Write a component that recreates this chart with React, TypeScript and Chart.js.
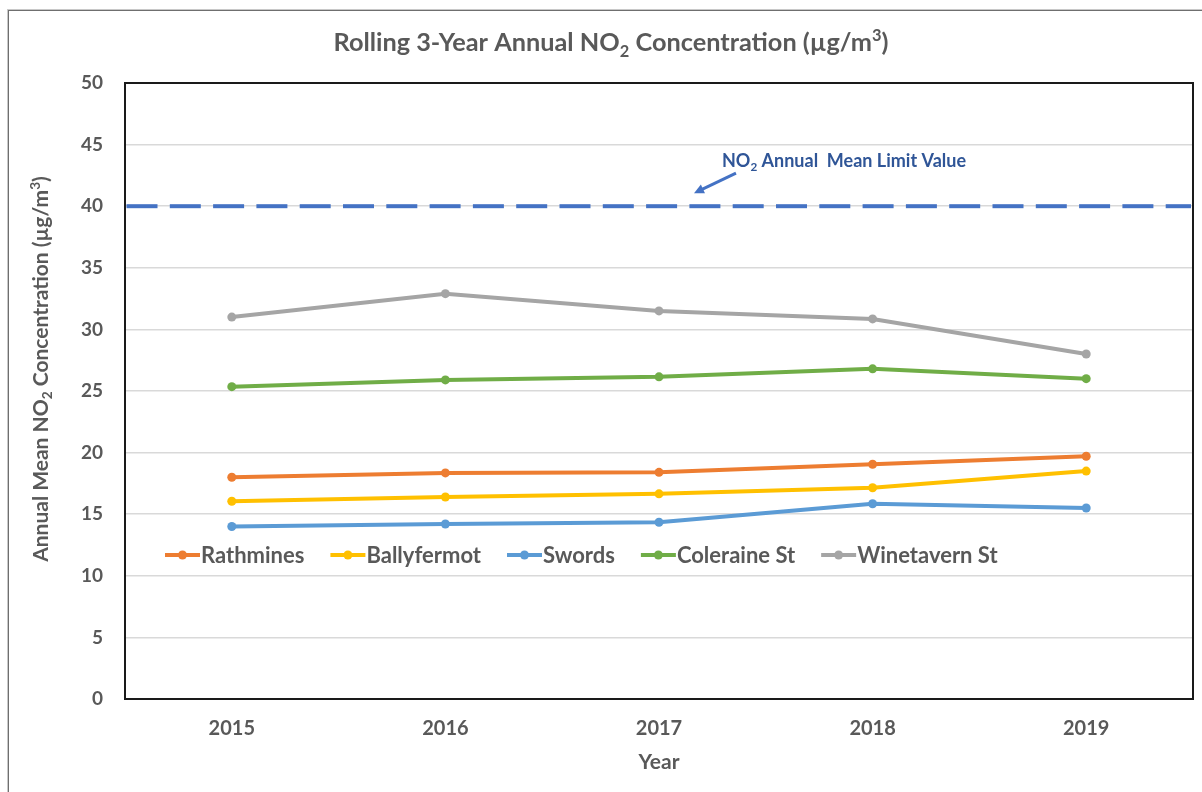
import React, { useEffect, useRef } from 'react';
import { Chart, registerables } from 'chart.js';

Chart.register(...registerables);

// ---- data ----
const YEARS = ['2015', '2016', '2017', '2018', '2019'];
const RATHMINES = [18.0, 18.35, 18.4, 19.05, 19.7];
const BALLYFERMOT = [16.05, 16.4, 16.65, 17.15, 18.5];
const SWORDS = [14.0, 14.2, 14.35, 15.85, 15.5];
const COLERAINE_ST = [25.35, 25.9, 26.15, 26.8, 26.0];
const WINETAVERN_ST = [31.0, 32.9, 31.5, 30.85, 28.0];
const SERIES_NAMES = ['Rathmines', 'Ballyfermot', 'Swords', 'Coleraine St', 'Winetavern St'];
const SERIES_COLORS = ['#ED7D31', '#FFC000', '#5B9BD5', '#70AD47', '#A5A5A5'];
const LIMIT_VALUE = 40;
const Y_MIN = 0;
const Y_MAX = 50;
const Y_STEP = 5;

// ---- text ----
type Seg = { t: string; s?: 'sub' | 'sup' };
const TITLE_PARTS: Seg[] = [
  { t: 'Rolling 3-Year Annual NO' },
  { t: '2', s: 'sub' },
  { t: ' Concentration (µg/m' },
  { t: '3', s: 'sup' },
  { t: ')' },
];
const Y_TITLE_PARTS: Seg[] = [
  { t: 'Annual Mean NO' },
  { t: '2', s: 'sub' },
  { t: ' Concentration (µg/m' },
  { t: '3', s: 'sup' },
  { t: ')' },
];
const LIMIT_LABEL_PARTS: Seg[] = [
  { t: 'NO' },
  { t: '2', s: 'sub' },
  { t: ' Annual  Mean Limit Value' },
];
const X_TITLE = 'Year';

const FONT = "Lato, 'Open Sans', sans-serif";
const TEXT_GREY = '#595959';

function drawRich(
  ctx: CanvasRenderingContext2D,
  parts: Seg[],
  x: number,
  y: number,
  size: number,
  weight: string,
  color: string,
  align: 'left' | 'center' = 'center'
) {
  const small = size * 0.65;
  const fontFor = (p: Seg) => `${weight} ${p.s ? small : size}px ${FONT}`;
  const widths = parts.map((p) => {
    ctx.font = fontFor(p);
    return ctx.measureText(p.t).width;
  });
  const total = widths.reduce((a, b) => a + b, 0);
  let cx = align === 'center' ? x - total / 2 : x;
  const base = y + size * 0.36;
  ctx.save();
  ctx.fillStyle = color;
  ctx.textAlign = 'left';
  ctx.textBaseline = 'alphabetic';
  parts.forEach((p, i) => {
    ctx.font = fontFor(p);
    const dy = p.s === 'sub' ? size * 0.22 : p.s === 'sup' ? -size * 0.38 : 0;
    ctx.fillText(p.t, cx, base + dy);
    cx += widths[i];
  });
  ctx.restore();
}

// dashed horizontal limit line across the whole plot, starting flush with the left frame
function drawLimitLine(chart: any) {
  const { ctx, chartArea: a, scales } = chart;
  const yLim = scales.y.getPixelForValue(LIMIT_VALUE);
  const dash = 31;
  const period = 43.3;
  ctx.save();
  ctx.fillStyle = '#4472C4';
  for (let x = a.left + 1.5; x < a.right - 2; x += period) {
    const w = Math.min(dash, a.right - 2 - x);
    ctx.fillRect(x, yLim - 2, w, 4);
  }
  ctx.restore();
}

const decorPlugin = {
  id: 'decor',
  beforeDatasetsDraw(chart: any) {
    const { ctx, chartArea: a } = chart;
    // plot frame
    ctx.save();
    ctx.setLineDash([]);
    ctx.strokeStyle = '#1a1a1a';
    ctx.lineWidth = 2;
    ctx.strokeRect(a.left, a.top, a.right - a.left, a.bottom - a.top);
    ctx.restore();
  },
  afterDraw(chart: any) {
    const { ctx, chartArea: a, scales } = chart;
    drawLimitLine(chart);
    // chart title
    drawRich(ctx, TITLE_PARTS, 611, 42, 25.3, 'bold', TEXT_GREY);
    // y-axis title
    ctx.save();
    ctx.translate(40, (a.top + a.bottom) / 2 - 22);
    ctx.rotate(-Math.PI / 2);
    drawRich(ctx, Y_TITLE_PARTS, 0, 0, 21, 'bold', TEXT_GREY);
    ctx.restore();

    // limit label + arrow
    const yLim = scales.y.getPixelForValue(LIMIT_VALUE);
    const xRef = scales.x.getPixelForValue(2);
    drawRich(ctx, LIMIT_LABEL_PARTS, xRef + 63, yLim - 46, 18, 'bold', '#2F5597', 'left');
    const x1 = xRef + 77, y1 = yLim - 33;
    const x2 = xRef + 35, y2 = yLim - 13;
    const ang = Math.atan2(y2 - y1, x2 - x1);
    ctx.save();
    ctx.setLineDash([]);
    ctx.strokeStyle = '#4472C4';
    ctx.fillStyle = '#4472C4';
    ctx.lineWidth = 3;
    ctx.beginPath();
    ctx.moveTo(x1, y1);
    ctx.lineTo(x2 + Math.cos(ang) * -6, y2 + Math.sin(ang) * -6);
    ctx.stroke();
    ctx.beginPath();
    ctx.moveTo(x2, y2);
    ctx.lineTo(x2 - 11 * Math.cos(ang - 0.45), y2 - 11 * Math.sin(ang - 0.45));
    ctx.lineTo(x2 - 11 * Math.cos(ang + 0.45), y2 - 11 * Math.sin(ang + 0.45));
    ctx.closePath();
    ctx.fill();
    ctx.restore();

    // legend inside the plot
    const ly = a.top + 472;
    let lx = a.left + 40;
    ctx.save();
    ctx.setLineDash([]);
    ctx.font = `bold 22px ${FONT}`;
    ctx.textBaseline = 'middle';
    chart.data.datasets.forEach((ds: any) => {
      ctx.strokeStyle = ds.borderColor;
      ctx.fillStyle = ds.borderColor;
      ctx.lineWidth = 4;
      ctx.beginPath();
      ctx.moveTo(lx, ly);
      ctx.lineTo(lx + 35, ly);
      ctx.stroke();
      ctx.beginPath();
      ctx.arc(lx + 17.5, ly, 4.5, 0, Math.PI * 2);
      ctx.fill();
      ctx.fillStyle = TEXT_GREY;
      ctx.fillText(ds.label, lx + 36, ly + 1);
      lx += 36 + ctx.measureText(ds.label).width + 26;
    });
    ctx.restore();
  },
};

export default function App() {
  const canvasRef = useRef<HTMLCanvasElement | null>(null);

  useEffect(() => {
    const canvas = canvasRef.current;
    if (!canvas) return;
    const seriesValues = [RATHMINES, BALLYFERMOT, SWORDS, COLERAINE_ST, WINETAVERN_ST];
    const chart = new Chart(canvas, {
      type: 'line',
      data: {
        labels: YEARS,
        datasets: seriesValues.map((vals, i) => ({
          label: SERIES_NAMES[i],
          data: vals,
          borderColor: SERIES_COLORS[i],
          backgroundColor: SERIES_COLORS[i],
          borderWidth: 4,
          pointRadius: 4.5,
          pointBorderWidth: 0,
          pointBackgroundColor: SERIES_COLORS[i],
          tension: 0,
          fill: false,
        })),
      },
      options: {
        responsive: false,
        animation: false,
        layout: { padding: { top: 83, right: 9, left: 0, bottom: 0 } },
        plugins: {
          legend: { display: false },
          title: { display: false },
          tooltip: { enabled: false },
        },
        scales: {
          x: {
            type: 'category',
            offset: true,
            grid: { display: false, drawTicks: false },
            border: { display: false },
            ticks: {
              padding: 18,
              color: TEXT_GREY,
              font: { family: FONT, size: 20, weight: 'bold' },
            },
            title: {
              display: true,
              text: X_TITLE,
              color: TEXT_GREY,
              font: { family: FONT, size: 21, weight: 'bold' },
              padding: { top: 0, bottom: 17 },
            },
            afterFit(scale: any) {
              scale.height = 93;
            },
          },
          y: {
            min: Y_MIN,
            max: Y_MAX,
            grid: { color: '#d9d9d9', lineWidth: 1.5, drawTicks: false },
            border: { display: false },
            ticks: {
              stepSize: Y_STEP,
              padding: 22,
              color: TEXT_GREY,
              font: { family: FONT, size: 19, weight: 'bold' },
            },
            afterFit(scale: any) {
              scale.width = 125;
            },
          },
        },
      },
      plugins: [decorPlugin],
    });
    return () => chart.destroy();
  }, []);

  return (
    <div style={{ position: 'absolute', left: 0, top: 0, width: 1202, height: 792, background: '#ffffff', overflow: 'hidden' }}>
      <div
        style={{
          position: 'absolute',
          left: 8,
          top: 10,
          width: 1300,
          height: 900,
          borderLeft: '1px solid #6f6f6f',
          borderTop: '1px solid #6f6f6f',
          boxShadow: '-1px -1px 0 #c8c8c8',
        }}
      />
      <canvas ref={canvasRef} width={1202} height={792} style={{ position: 'absolute', left: 0, top: 0, display: 'block' }} />
    </div>
  );
}
